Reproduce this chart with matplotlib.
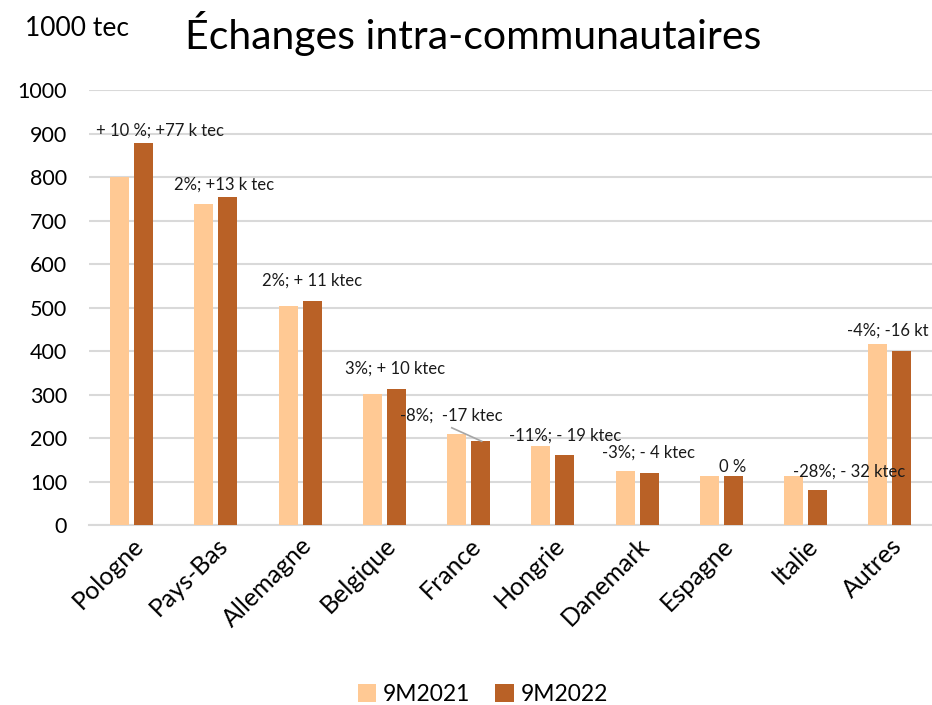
import numpy as np
import matplotlib
matplotlib.use("Agg")
import matplotlib.pyplot as plt

plt.rcParams["font.family"] = ["Lato", "DejaVu Sans"]

# ---------------------------------------------------------------------------
# Data
# ---------------------------------------------------------------------------
countries = ["Pologne", "Pays-Bas", "Allemagne", "Belgique", "France",
             "Hongrie", "Danemark", "Espagne", "Italie", "Autres"]
v2021 = [800, 738, 503, 301, 209, 182, 124, 113, 113, 416]
v2022 = [878, 754, 515, 313, 193, 161, 120, 113, 80, 400]
labels = ["+ 10 %; +77 k tec", "2%; +13 k tec", "2%; + 11 ktec",
          "3%; + 10 ktec", "-8%;  -17 ktec", "-11%; - 19 ktec",
          "-3%; - 4 ktec", "0 %", "-28%; - 32 ktec", "-4%; -16 kt"]
# label anchor (x in category units, y in data units)
label_x = [0.34, 1.10, 2.14, 3.13, 3.80, 5.15, 6.14, 7.13, 8.52, 9.46]
label_y = [908, 782, 563, 359, 253, 207, 168, 133, 124, 448]

C2021 = "#FFC994"
C2022 = "#B96126"
GRID = "#D9D9D9"

fig = plt.figure(figsize=(9.32, 7.05), dpi=100)
ax = fig.add_axes([0.096, 0.255, 0.904, 0.617])

x = np.arange(len(countries))
w = 0.225
off = 0.142
ax.bar(x - off, v2021, w, color=C2021, label="9M2021", zorder=3)
ax.bar(x + off, v2022, w, color=C2022, label="9M2022", zorder=3)

for i, (lx, ly, t) in enumerate(zip(label_x, label_y, labels)):
    ha = "right" if i == len(labels) - 1 else "center"
    ax.text(lx, ly, t, ha=ha, va="center", fontsize=12, color="#1a1a1a",
            zorder=5, clip_on=False)

# leader line for France
ax.plot([3.80, 4.155], [224, 193], color="#A6A6A6", lw=1.2, zorder=4)

ax.set_xlim(-0.5, len(countries) - 0.5)
ax.set_ylim(0, 1000)
ax.set_yticks(range(0, 1001, 100))
ax.tick_params(axis="y", labelsize=15.5, length=0, pad=16)
ax.tick_params(axis="x", length=0, pad=6)
ax.set_xticks(x)
ax.set_xticklabels(countries, rotation=45, ha="right", rotation_mode="anchor",
                   fontsize=18)
ax.grid(axis="y", color=GRID, lw=1.5, zorder=0)
for s in ["top", "right", "left"]:
    ax.spines[s].set_visible(False)
ax.spines["bottom"].set_color(GRID)
ax.spines["bottom"].set_linewidth(1.5)

fig.text(0.508, 0.953, "Échanges intra-communautaires", ha="center",
         va="center", fontsize=29.5)
fig.text(0.027, 0.96, "1000 tec", ha="left", va="center", fontsize=19)

fig.legend(loc="center", bbox_to_anchor=(0.518, 0.015), ncol=2, frameon=False,
           fontsize=16.5, handlelength=0.8, handleheight=0.8,
           handletextpad=0.3, columnspacing=1.1)

fig.savefig("out.png", dpi=100)
